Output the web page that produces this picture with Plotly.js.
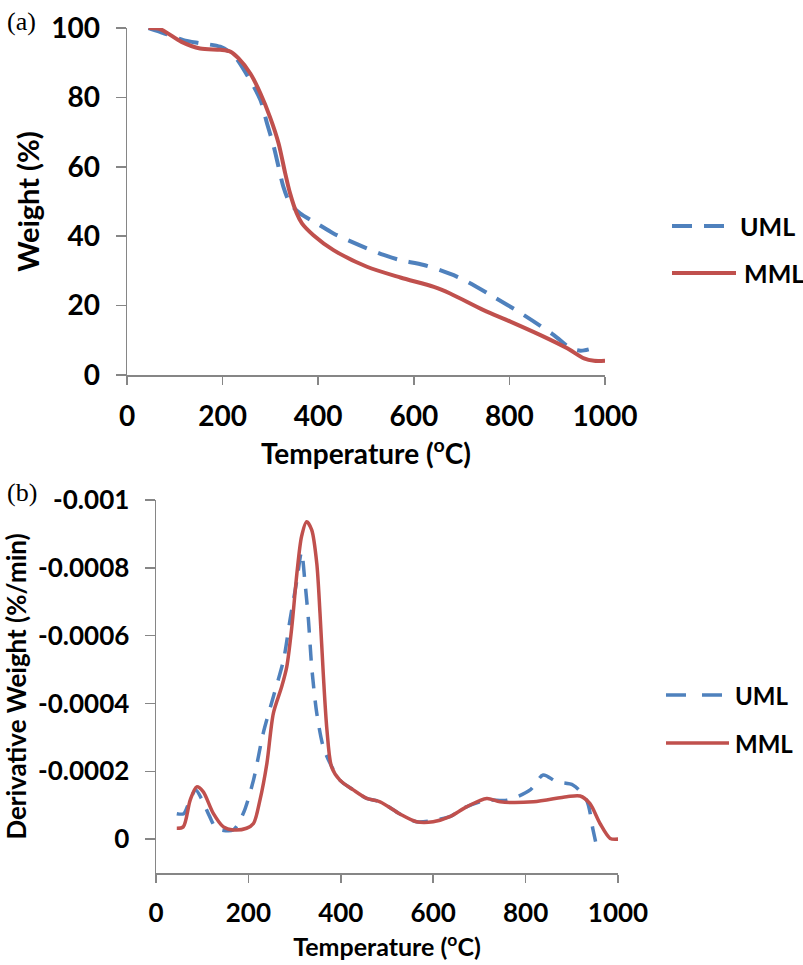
<!DOCTYPE html>
<html>
<head>
<meta charset="utf-8">
<script src="https://cdn.plot.ly/plotly-3.0.1.min.js"></script>
<style>html,body{margin:0;padding:0;background:#fff;}#chart{width:803px;height:965px;}</style>
</head>
<body>
<div id="chart"></div>
<script>
// ---- (a) TGA weight curves ----
const tgaUMLTemp = [45, 69, 118, 153, 195, 223, 251, 279, 293, 307, 317, 327, 341, 362, 397, 432, 502, 537, 572, 621, 691, 760, 830, 893, 928, 949, 966];
const tgaUMLWeight = [100, 98.9, 96.5, 95.6, 94.6, 92.2, 86.5, 79.3, 72.5, 65.8, 60, 54.3, 49.5, 46.6, 43.7, 40.8, 36.5, 34.6, 33.1, 31.7, 28.3, 23.1, 17.3, 11.5, 7.7, 7.0, 7.4];
const tgaMMLTemp = [45, 69, 114, 153, 195, 216, 233, 258, 279, 299, 317, 331, 341, 355, 366, 390, 432, 502, 572, 642, 676, 746, 802, 865, 921, 956, 977, 1000];
const tgaMMLWeight = [100, 99.7, 96, 94.1, 93.7, 93.2, 91.3, 86.9, 81.2, 74.4, 66.8, 58.1, 52.4, 46.6, 43.7, 40.3, 36.0, 31.2, 28.1, 25.4, 23.5, 18.7, 15.4, 11.5, 7.7, 4.8, 4.1, 4.1];

// ---- (b) DTG derivative curves ----
const dtgUMLTemp = [45, 60, 72, 86, 100, 115, 131, 167, 189, 211, 232, 254, 276, 290, 305, 315, 322, 330, 337, 348, 362, 377, 398, 427, 456, 485, 528, 564, 600, 636, 672, 716, 760, 810, 838, 867, 903, 932, 946, 957];
const dtgUMLDeriv = [-0.000075, -0.000075, -0.00011, -0.000145, -0.000115, -0.00007, -0.000032, -0.000027, -0.000076, -0.000174, -0.000312, -0.00042, -0.000528, -0.000646, -0.000764, -0.000847, -0.000764, -0.000646, -0.000508, -0.000371, -0.000272, -0.000223, -0.000174, -0.000145, -0.00012, -0.00011, -0.000074, -0.000051, -0.000055, -0.000066, -0.000095, -0.000115, -0.000115, -0.000145, -0.000189, -0.000169, -0.000159, -0.000115, -0.000027, 0.000042];
const dtgMMLTemp = [45, 59, 74, 88, 102, 124, 146, 167, 196, 211, 225, 240, 254, 272, 283, 294, 305, 315, 326, 337, 348, 355, 362, 370, 380, 398, 427, 456, 485, 528, 564, 600, 636, 672, 716, 745, 817, 889, 918, 939, 961, 983, 1001];
const dtgMMLDeriv = [-0.000032, -0.000036, -0.000115, -0.000154, -0.00014, -0.000076, -0.000036, -0.000027, -0.000032, -0.000046, -0.000115, -0.000223, -0.000371, -0.000449, -0.000508, -0.000626, -0.000784, -0.000892, -0.000936, -0.000912, -0.000813, -0.000666, -0.000489, -0.000322, -0.000213, -0.000174, -0.000145, -0.00012, -0.00011, -0.000074, -0.000051, -0.000051, -0.000066, -0.000095, -0.00012, -0.00011, -0.00011, -0.000125, -0.000127, -0.000105, -0.000046, -0.000002, 0.0];

// ---- tick labels ----
const xTickVals = [0, 200, 400, 600, 800, 1000];
const xTickText = ["0", "200", "400", "600", "800", "1000"];
const weightTickVals = [0, 20, 40, 60, 80, 100];
const weightTickText = ["0", "20", "40", "60", "80", "100"];
const derivTickVals = [0, -0.0002, -0.0004, -0.0006, -0.0008, -0.001];
const derivTickText = ["0", "-0.0002", "-0.0004", "-0.0006", "-0.0008", "-0.001"];
const seriesNames = ["UML", "MML"];

const BLUE = "#4F81BD", RED = "#C0504D", AXIS = "#868686";
const FONT = "Lato, 'Open Sans', sans-serif";
const W = 803, H = 965;
const px = v => v / W, py = v => 1 - v / H;

const traces = [
  {x: tgaUMLTemp, y: tgaUMLWeight, name: seriesNames[0], xaxis: "x", yaxis: "y", mode: "lines",
   line: {color: BLUE, width: 4, dash: "20px,12px", shape: "spline", smoothing: 0.8}, showlegend: false},
  {x: tgaMMLTemp, y: tgaMMLWeight, name: seriesNames[1], xaxis: "x", yaxis: "y", mode: "lines",
   line: {color: RED, width: 4, shape: "spline", smoothing: 0.8}, showlegend: false},
  {x: dtgUMLTemp, y: dtgUMLDeriv, name: seriesNames[0], xaxis: "x2", yaxis: "y2", mode: "lines",
   line: {color: BLUE, width: 3.5, dash: "16px,12px", shape: "spline", smoothing: 0.8}, showlegend: false},
  {x: dtgMMLTemp, y: dtgMMLDeriv, name: seriesNames[1], xaxis: "x2", yaxis: "y2", mode: "lines",
   line: {color: RED, width: 3.5, shape: "spline", smoothing: 0.8}, showlegend: false}
];

const axisCommon = {showgrid: false, zeroline: false, showline: true, linecolor: AXIS, linewidth: 1.5,
  ticks: "outside", tickcolor: AXIS, tickwidth: 1.5, fixedrange: true};

const layout = {
  width: W, height: H,
  margin: {l: 0, r: 0, t: 0, b: 0},
  paper_bgcolor: "#fff", plot_bgcolor: "#fff",
  font: {family: FONT, color: "#000"},
  showlegend: false,
  xaxis: Object.assign({}, axisCommon, {domain: [px(127), px(605)], range: [0, 1000], anchor: "y",
    tickvals: xTickVals, ticktext: xTickText, ticklen: 8, ticklabelstandoff: 8,
    tickfont: {family: FONT, size: 28, weight: "bold"},
    title: {text: "Temperature (<sup>o</sup>C)", font: {family: FONT, size: 28, weight: "bold"}, standoff: 13}}),
  yaxis: Object.assign({}, axisCommon, {domain: [py(375), py(28)], range: [0, 100], anchor: "x",
    tickvals: weightTickVals, ticktext: weightTickText, ticklen: 10, ticklabelstandoff: 10,
    tickfont: {family: FONT, size: 28, weight: "bold"},
    title: {text: "Weight (%)", font: {family: FONT, size: 29, weight: "bold"}, standoff: 3}}),
  xaxis2: Object.assign({}, axisCommon, {domain: [px(156), px(618)], range: [0, 1000], anchor: "y2",
    tickvals: xTickVals, ticktext: xTickText, ticklen: 8, ticklabelstandoff: 8,
    tickfont: {family: FONT, size: 26, weight: "bold"},
    title: {text: "Temperature (<sup>o</sup>C)", font: {family: FONT, size: 25, weight: "bold"}, standoff: 12}}),
  yaxis2: Object.assign({}, axisCommon, {domain: [py(873), py(500)], range: [0.0001, -0.001], anchor: "x2",
    tickvals: derivTickVals, ticktext: derivTickText, ticklen: 10, ticklabelstandoff: 10,
    tickfont: {family: FONT, size: 26, weight: "bold"},
    title: {text: "Derivative Weight (%/min)", font: {family: FONT, size: 26, weight: "bold"}, standoff: 6}}),
  shapes: [
    {type: "line", xref: "paper", yref: "paper", x0: px(672), x1: px(731), y0: py(226), y1: py(226), line: {color: BLUE, width: 4, dash: "20px,12px"}},
    {type: "line", xref: "paper", yref: "paper", x0: px(672), x1: px(736), y0: py(273), y1: py(273), line: {color: RED, width: 4}},
    {type: "line", xref: "paper", yref: "paper", x0: px(666), x1: px(729), y0: py(695), y1: py(695), line: {color: BLUE, width: 3.5, dash: "20px,16px"}},
    {type: "line", xref: "paper", yref: "paper", x0: px(666), x1: px(729), y0: py(743), y1: py(743), line: {color: RED, width: 3.5}}
  ],
  annotations: [
    {text: seriesNames[0], xref: "paper", yref: "paper", x: px(738), y: py(226), xanchor: "left", yanchor: "middle", showarrow: false, font: {family: FONT, size: 25, weight: "bold"}},
    {text: seriesNames[1], xref: "paper", yref: "paper", x: px(742), y: py(273), xanchor: "left", yanchor: "middle", showarrow: false, font: {family: FONT, size: 25, weight: "bold"}},
    {text: seriesNames[0], xref: "paper", yref: "paper", x: px(733), y: py(695), xanchor: "left", yanchor: "middle", showarrow: false, font: {family: FONT, size: 24, weight: "bold"}},
    {text: seriesNames[1], xref: "paper", yref: "paper", x: px(733), y: py(743), xanchor: "left", yanchor: "middle", showarrow: false, font: {family: FONT, size: 24, weight: "bold"}},
    {text: "(a)", xref: "paper", yref: "paper", x: px(5), y: py(21), xanchor: "left", yanchor: "middle", showarrow: false, font: {family: "'Liberation Serif', serif", size: 26}},
    {text: "(b)", xref: "paper", yref: "paper", x: px(5), y: py(492), xanchor: "left", yanchor: "middle", showarrow: false, font: {family: "'Liberation Serif', serif", size: 26}}
  ]
};

Plotly.newPlot("chart", traces, layout, {displayModeBar: false, staticPlot: true});
</script>
</body>
</html>
